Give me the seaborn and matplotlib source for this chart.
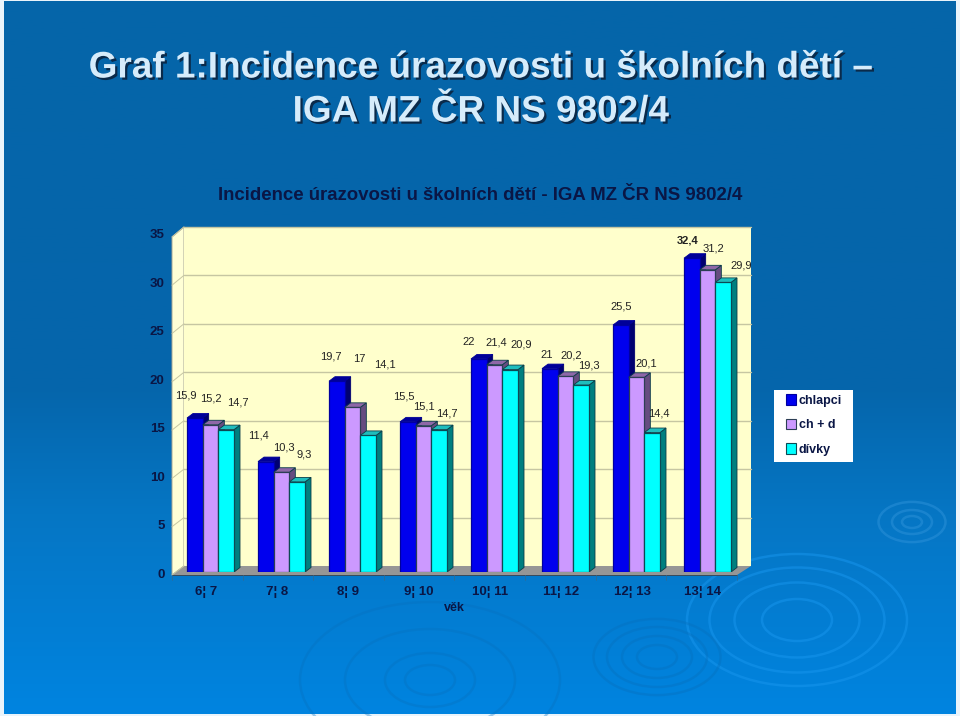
# Graf 1: incidence urazovosti u skolnich deti
import numpy as np
import pandas as pd
import matplotlib
matplotlib.use('Agg')
import matplotlib.pyplot as plt
import matplotlib.patheffects as pe
from matplotlib.colors import LinearSegmentedColormap
from matplotlib.patches import Polygon, Ellipse, Rectangle
from matplotlib.transforms import ScaledTranslation
import seaborn as sns

# Data
# ==============================================================================
vek = ['6¦ 7', '7¦ 8', '8¦ 9', '9¦ 10', '10¦ 11', '11¦ 12', '12¦ 13', '13¦ 14']
chlapci = [15.9, 11.4, 19.7, 15.5, 22, 21, 25.5, 32.4]
ch_d = [15.2, 10.3, 17, 15.1, 21.4, 20.2, 20.1, 31.2]
divky = [14.7, 9.3, 14.1, 14.7, 20.9, 19.3, 14.4, 29.9]
nazvy = ['chlapci', 'ch + d', 'dívky']
tiky = [0, 5, 10, 15, 20, 25, 30, 35]

# posuny popisku od vrsku sloupce, v pixelech (popisky jsou v originale rucne)
posun_ch = [(-9, 22), (-7, 26), (-6, 25), (-4, 25), (-10, 17), (-3, 14), (0, 19), (-4, 18)]
posun_cd = [(0, 26), (2, 25), (7, 48), (0, 19), (2, 22), (6, 21), (10, 14), (6, 21)]
posun_d = [(12, 27), (7, 27), (17, 71), (8, 16), (11, 25), (8, 20), (7, 19), (18, 17)]

# Barvy: predek, vrsek, bok, okraj
predek = ['#0000EE', '#CC99FF', '#00FFFF']
vrsek = ['#000099', '#8E67A8', '#1FBDBD']
bok = ['#000070', '#664C80', '#007F7F']
okraj = ['#0000A0', '#2C3E55', '#0C4A55']
tmava = '#0A1645'

df = pd.DataFrame({
    'vek': vek * 3,
    'hodnota': chlapci + ch_d + divky,
    'pohlavi': np.repeat(nazvy, len(vek)),
})

sns.set_theme(style='white')
plt.rcParams['font.family'] = ['Liberation Sans', 'DejaVu Sans']

fig = plt.figure(figsize=(9.6, 7.16), dpi=100, facecolor='#EAF4FB')

# Pozadi a steny grafu v pixelech
# ==============================================================================
bg = fig.add_axes([0, 0, 1, 1])
bg.axis('off')
cmap = LinearSegmentedColormap.from_list(
    'pozadi', [(0, '#0565A9'), (0.55, '#0566AC'), (0.72, '#0676C4'), (1, '#0084E0')])
bg.imshow(np.linspace(0, 1, 256).reshape(-1, 1), extent=(4, 956, 714, 1), aspect='auto',
          cmap=cmap, zorder=0)
bg.set_xlim(0, 960)
bg.set_ylim(716, 0)

# dekorativni kruhy ve spodni casti
kruhy = [
    (797, 620, [70, 125, 175, 220], '#1896EE', 0.5),
    (657, 657, [40, 70, 100, 127], '#0670BE', 0.4),
    (430, 680, [50, 90, 170, 260], '#0670BE', 0.35),
    (912, 522, [20, 40, 67], '#2A90D8', 0.55),
]
for cx, cy, sirky, barva, alfa in kruhy:
    for sirka in sirky:
        bg.add_patch(Ellipse((cx, cy), sirka, sirka * 0.6, fill=False, ec=barva,
                             lw=1.8, alpha=alfa, zorder=1))

stena = '#FFFFCC'
mrizka = '#C6C6A2'
bg.add_patch(Polygon([(172, 237), (184, 227), (184, 566), (172, 575)], fc='#FFFFD6',
                     ec='#A5A596', lw=0.7, zorder=2))
bg.add_patch(Polygon([(184, 227), (751, 227), (751, 566), (184, 566)], fc=stena,
                     ec='none', zorder=2))
bg.add_patch(Polygon([(172, 575), (184, 566), (751, 566), (737, 575)], fc='#969696',
                     ec='none', zorder=2))
for t in tiky:
    y_z = 566 - t * 9.69
    y_p = 575 - t * 9.66
    if t > 0:
        bg.plot([184, 751], [y_z, y_z], color=mrizka, lw=1, zorder=3)
    bg.plot([172, 184], [y_p, y_z], color=mrizka, lw=0.7, zorder=3)
bg.plot([172, 737], [575, 575], color='#3A4A5A', lw=0.7, zorder=3)
for i in range(len(vek) + 1):
    bg.plot([172 + 70.6 * i] * 2, [575, 580], color='#2F6C96', lw=0.6, zorder=3)

# bily podklad legendy
bg.add_patch(Rectangle((774, 390), 79, 72, fc='white', ec='none', zorder=2))

# Sloupce
# ==============================================================================
ax = fig.add_axes([175 / 960, 1 - 572 / 716, 568 / 960, 339 / 716])
ax.patch.set_alpha(0)
sns.barplot(data=df, x='vek', y='hodnota', hue='pohlavi', hue_order=nazvy,
            palette=predek, width=0.662, gap=0, saturation=1, ax=ax)
ax.set_xlim(-0.5, 7.5)
ax.set_ylim(0, 35)
sns.despine(ax=ax, left=True, bottom=True)

# boky a vrsky sloupcu, odvozene z obdelniku ktere nakreslil seaborn
dx = 6 * 8 / 568
dy = 4.5 * 35 / 339
for s, cont in enumerate(ax.containers):
    for bar in cont:
        x0, w, h = bar.get_x(), bar.get_width(), bar.get_height()
        bar.set_edgecolor(okraj[s])
        bar.set_linewidth(0.9)
        bar.set_zorder(5 + 2 * s)
        ax.add_patch(Polygon([(x0 + w, 0), (x0 + w + dx, dy), (x0 + w + dx, h + dy), (x0 + w, h)],
                             fc=bok[s], ec='#0A3C48' if s else bok[s], lw=0.6, zorder=4 + 2 * s))
        ax.add_patch(Polygon([(x0, h), (x0 + dx, h + dy), (x0 + w + dx, h + dy), (x0 + w, h)],
                             fc=vrsek[s], ec='#0A3C48' if s else vrsek[s], lw=0.6, zorder=4 + 2 * s))

# Popisky hodnot
# ==============================================================================
for cont, posun in zip(ax.containers, [posun_ch, posun_cd, posun_d]):
    for bar, (px, py) in zip(cont, posun):
        h = bar.get_height()
        ax.annotate(f'{h:g}'.replace('.', ','), (bar.get_x() + bar.get_width() / 2, h),
                    xytext=(px, py), textcoords='offset pixels', ha='center', va='center',
                    fontsize=8, color='#222222', zorder=20, annotation_clip=False,
                    fontweight='bold' if h == max(chlapci) else 'normal')

# Osy
# ==============================================================================
ax.set_yticks(tiky)
ax.tick_params(axis='y', length=0, pad=7.5, labelsize=9.5, labelcolor=tmava)
ax.tick_params(axis='x', length=0, pad=10, labelsize=9.5, labelcolor=tmava)
posun_y = ScaledTranslation(0, -1 / 100, fig.dpi_scale_trans)
posun_x = ScaledTranslation(-4.5 / 100, 0, fig.dpi_scale_trans)
for lab in ax.get_yticklabels():
    lab.set_fontweight('bold')
    lab.set_transform(lab.get_transform() + posun_y)
for lab in ax.get_xticklabels():
    lab.set_fontweight('bold')
    lab.set_transform(lab.get_transform() + posun_x)
ax.set_ylabel('')
ax.set_xlabel('')
fig.text(454 / 960, 1 - 608 / 716, 'věk', ha='center', va='center', fontsize=9,
         fontweight='bold', color=tmava)

# Legenda
# ==============================================================================
leg = ax.legend(loc='center', bbox_to_anchor=(814 / 960, 1 - 425 / 716),
                bbox_transform=fig.transFigure, frameon=False, fontsize=9,
                handlelength=0.8, handleheight=0.9, handletextpad=0.25,
                labelspacing=0.95, borderpad=0, borderaxespad=0)
leg.set_zorder(30)
for txt in leg.get_texts():
    txt.set_fontweight('bold')
    txt.set_color(tmava)
for h, c in zip(leg.get_patches(), okraj):
    h.set_edgecolor(c)
    h.set_linewidth(0.8)

# Nadpisy
# ==============================================================================
stin = [pe.SimplePatchShadow(offset=(1.6, -1.6), shadow_rgbFace='#0A2A4A', alpha=1), pe.Normal()]
for y, text in [(68, 'Graf 1:Incidence úrazovosti u školních dětí –'), (112, 'IGA MZ ČR NS 9802/4')]:
    fig.text(480.5 / 960, 1 - y / 716, text, ha='center', va='center', fontsize=26.6, fontweight='bold',
             color='#D6ECFB', path_effects=stin)
fig.text(480.5 / 960, 1 - 195 / 716, 'Incidence úrazovosti u školních dětí - IGA MZ ČR NS 9802/4',
         ha='center', va='center', fontsize=13.4, fontweight='bold', color=tmava)

fig.savefig('out.png', dpi=100, facecolor=fig.get_facecolor())
